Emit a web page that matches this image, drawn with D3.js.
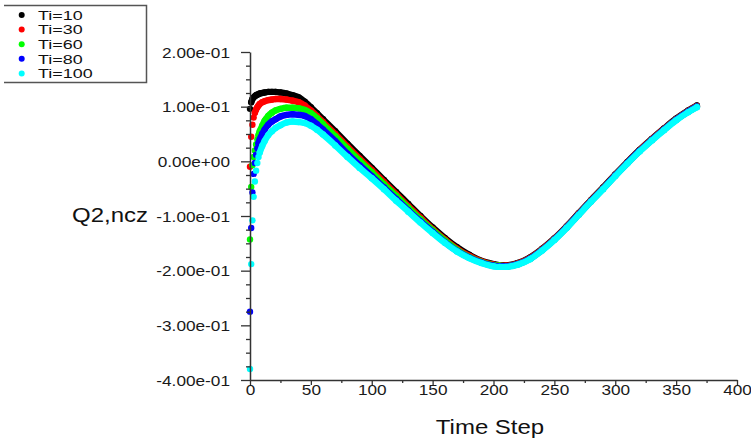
<!DOCTYPE html>
<html><head><meta charset="utf-8">
<script src="https://cdn.jsdelivr.net/npm/d3@7"></script>
<style>body{margin:0;background:#fff;} svg{display:block;}</style>
</head><body>
<svg id="chart" width="751" height="443"></svg>
<script>
// ---- data ----
const timeSteps = [0,1,2,3,4,5,6,7,8,10,12,15,18,21,25,30,35,40,45,50,55,60,70,80,90,100,110,120,130,140,150,160,170,180,190,200,205,210,220,230,240,250,260,270,280,290,300,310,320,330,340,350,360,367];
const ti10  = [0.096,0.108,0.114,0.117,0.119,0.121,0.122,0.123,0.124, 0.125,0.126,0.127,0.127,0.127,0.126,0.124,0.121,0.117,0.109,0.099,0.088,0.077, 0.055,0.032,0.010,-0.012,-0.034,-0.056,-0.078,-0.100,-0.121,-0.140,-0.157,-0.171,-0.182,-0.188, -0.190, -0.190,-0.186,-0.176,-0.160,-0.141,-0.119,-0.095,-0.071,-0.048,-0.024,-0.001,0.021,0.041,0.060,0.078,0.093, 0.102];
const ti30  = [-0.010,0.045,0.067,0.080,0.089,0.095,0.099,0.102,0.105, 0.108,0.110,0.112,0.113,0.114,0.114,0.113,0.111,0.108,0.102,0.093,0.083,0.072, 0.050,0.027,0.005,-0.016,-0.038,-0.060,-0.082,-0.103,-0.124,-0.143,-0.160,-0.173,-0.183,-0.189, -0.191, -0.191,-0.187,-0.177,-0.161,-0.142,-0.120,-0.096,-0.072,-0.049,-0.025,-0.002,0.020,0.040,0.059,0.077,0.092, 0.101];
const ti60  = [-0.143,-0.047,-0.007,0.008,0.020,0.031,0.040,0.048,0.055, 0.065,0.074,0.083,0.089,0.093,0.096,0.098,0.098,0.097,0.094,0.088,0.079,0.068, 0.046,0.023,0.001,-0.020,-0.042,-0.063,-0.085,-0.106,-0.126,-0.145,-0.162,-0.175,-0.184,-0.190, -0.191, -0.192,-0.188,-0.178,-0.162,-0.143,-0.121,-0.097,-0.073,-0.050,-0.026,-0.003,0.019,0.039,0.058,0.076,0.091, 0.100];
const ti80  = [-0.275,-0.122,-0.057,-0.023,-0.003,0.012,0.024,0.033,0.040, 0.050,0.058,0.067,0.073,0.077,0.082,0.085,0.086,0.085,0.083,0.077,0.068,0.058, 0.037,0.014,-0.007,-0.027,-0.048,-0.069,-0.090,-0.110,-0.129,-0.148,-0.164,-0.176,-0.185,-0.191, -0.192, -0.192,-0.188,-0.178,-0.162,-0.143,-0.121,-0.097,-0.073,-0.050,-0.026,-0.003,0.019,0.039,0.058,0.076,0.091, 0.100];
const ti100 = [-0.380,-0.188,-0.108,-0.065,-0.037,-0.017,-0.003,0.008,0.016, 0.028,0.037,0.048,0.055,0.061,0.066,0.071,0.073,0.072,0.070,0.065,0.058,0.049, 0.029,0.008,-0.012,-0.031,-0.051,-0.072,-0.092,-0.112,-0.131,-0.149,-0.165,-0.177,-0.186,-0.192, -0.193, -0.193,-0.189,-0.179,-0.163,-0.144,-0.122,-0.098,-0.074,-0.051,-0.027,-0.004,0.018,0.038,0.057,0.075,0.090, 0.099];
const seriesNames = ["Ti=10","Ti=30","Ti=60","Ti=80","Ti=100"];
const seriesValues = [ti10, ti30, ti60, ti80, ti100];
const seriesColors = ["#000000","#ff0000","#00ff00","#0000ff","#00ffff"];
const xTicks = [0,50,100,150,200,250,300,350,400];
const xMinorTicks = [25,75,125,175,225,275,325,375];
const yTicks = [-0.4,-0.3,-0.2,-0.1,0,0.1,0.2];
const yMinorTicks = d3.range(-0.4, 0.2001, 0.025).filter(v => Math.abs(Math.round(v*10) - v*10) > 0.01);
const xTitle = "Time Step";
const yTitle = "Q2,ncz";

// ---- layout ----
const FONT = "'Liberation Sans', Arial, sans-serif";
const SX = 1.23;           // horizontal text stretch seen in the reference
const AX = "#333";
const svg = d3.select("#chart");
const x = d3.scaleLinear([0, 400], [250, 737]);
const y = d3.scaleLinear([-0.4, 0.2], [380, 52]);

function fmtE(v) {
  let s = v.toExponential(2);            // e.g. 1.00e-1
  return s.replace(/e([+-])(\d)$/, "e$10$2");
}

// Series
const line = d3.line().x(d => x(d.t)).y(d => y(d.v)).curve(d3.curveMonotoneX);
seriesValues.forEach((vals, i) => {
  const pts = timeSteps.map((t, j) => ({t, v: vals[j]}));
  // split into runs where consecutive samples are close on screen
  const runs = [];
  let cur = [pts[0]];
  for (let j = 1; j < pts.length; j++) {
    const a = pts[j-1], b = pts[j];
    const d = Math.hypot(x(b.t) - x(a.t), y(b.v) - y(a.v)) / (b.t - a.t);
    if (d > 4.5) { runs.push(cur); cur = [b]; } else cur.push(b);
  }
  runs.push(cur);
  const g = svg.append("g");
  runs.filter(r => r.length > 1).forEach(r => {
    g.append("path").attr("d", line(r)).attr("fill", "none")
      .attr("stroke", seriesColors[i]).attr("stroke-width", 6.4)
      .attr("stroke-linecap", "round").attr("stroke-linejoin", "round");
  });
  g.selectAll("circle").data(pts).join("circle")
    .attr("cx", d => x(d.t)).attr("cy", d => y(d.v)).attr("r", 3.2)
    .attr("fill", seriesColors[i]);
});

// Y axis
const gyMinor = svg.append("g").attr("transform", "translate(250,0)")
  .call(d3.axisLeft(y).tickValues(yMinorTicks).tickSize(4).tickSizeOuter(0).tickFormat(""));
gyMinor.select(".domain").remove();
const gy = svg.append("g").attr("transform", "translate(250,0)")
  .call(d3.axisLeft(y).tickValues(yTicks).tickSize(9).tickSizeOuter(0).tickFormat(fmtE));
// X axis
const gxMinor = svg.append("g").attr("transform", "translate(0,380)")
  .call(d3.axisBottom(x).tickValues(xMinorTicks).tickSize(3).tickSizeOuter(0).tickFormat(""));
gxMinor.select(".domain").remove();
const gx = svg.append("g").attr("transform", "translate(0,380)")
  .call(d3.axisBottom(x).tickValues(xTicks).tickSize(5).tickSizeOuter(0).tickFormat(d3.format("d")));

[gy, gx, gyMinor, gxMinor].forEach(g => {
  g.selectAll(".domain").attr("stroke", AX).attr("stroke-width", 1.5);
  g.selectAll(".tick line").attr("stroke", AX).attr("stroke-width", 1.3);
  g.attr("font-family", FONT).attr("font-size", 14);
});
gy.selectAll(".tick text").attr("x", null).attr("dy", null)
  .attr("transform", "translate(-20,5) scale(" + SX + ",1)").attr("fill", "#1a1a1a");
gx.selectAll(".tick text").attr("y", null).attr("dy", null)
  .attr("transform", "translate(0,15) scale(" + SX + ",1)").attr("fill", "#1a1a1a");

// Titles
function stretchedText(px, py, str, size, anchor) {
  return svg.append("text").attr("transform", `translate(${px},${py}) scale(${SX},1)`)
    .attr("text-anchor", anchor).attr("font-family", FONT).attr("font-size", size)
    .attr("fill", "#111").text(str);
}
stretchedText(490, 434, xTitle, 19.5, "middle");
stretchedText(148, 222, yTitle, 19.5, "end");

// Legend
const lg = svg.append("g");
lg.append("path").attr("d", "M4,5.5H146.5V82.5H4").attr("fill", "none")
  .attr("stroke", "#555").attr("stroke-width", 1.5);
seriesNames.forEach((name, i) => {
  const cy = 15 + i * 14.6;
  lg.append("circle").attr("cx", 21.7).attr("cy", cy).attr("r", 3).attr("fill", seriesColors[i]);
  lg.append("text").attr("transform", `translate(38,${cy + 4.8}) scale(1.4,1)`)
    .attr("font-family", FONT).attr("font-size", 12.8).attr("fill", "#111").text(name);
});
</script>
</body></html>
